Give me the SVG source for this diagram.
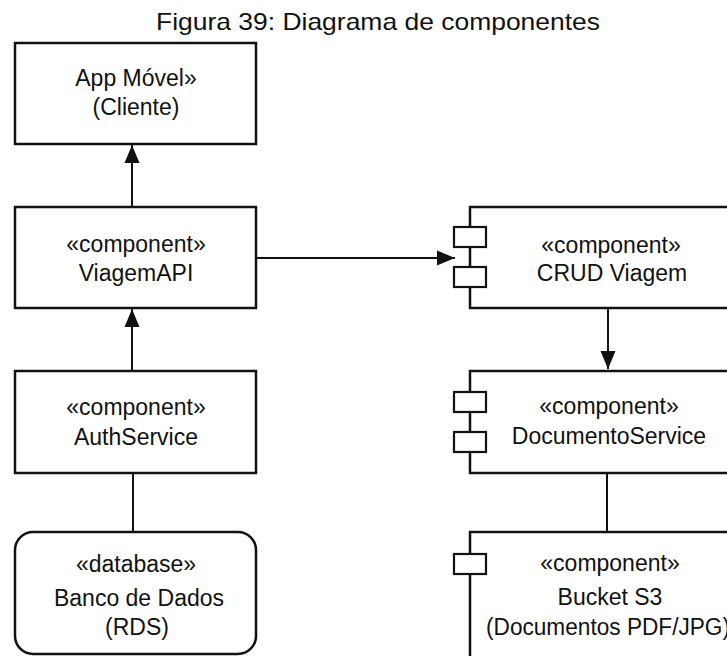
<svg xmlns="http://www.w3.org/2000/svg" width="727" height="656" viewBox="0 0 727 656">
  <style>
    .box { fill: #ffffff; stroke: #111111; stroke-width: 2.5; }
    .port { fill: #ffffff; stroke: #111111; stroke-width: 2.2; }
    .edge { fill: none; stroke: #111111; stroke-width: 2; }
    text { font-family: "Liberation Sans", Arial, sans-serif; font-size: 23px; fill: #111111; text-anchor: middle; }
    .title { font-size: 24px; }
  </style>
  <defs>
    <marker id="arrow" markerUnits="userSpaceOnUse" markerWidth="20" markerHeight="16" refX="18" refY="8" orient="auto">
      <path d="M0,0.5 L18,8 L0,15.5 Z" fill="#111111"/>
    </marker>
  </defs>
  <rect width="727" height="656" fill="#ffffff"/>

  <text class="title" x="378" y="30" textLength="444" lengthAdjust="spacingAndGlyphs">Figura 39: Diagrama de componentes</text>

  <g id="connectors">
    <line class="edge" x1="132" y1="207" x2="132" y2="145" marker-end="url(#arrow)"/>
    <line class="edge" x1="132" y1="371" x2="132" y2="309" marker-end="url(#arrow)"/>
    <line class="edge" x1="257" y1="258" x2="455" y2="258" marker-end="url(#arrow)"/>
    <line class="edge" x1="608" y1="308" x2="608" y2="369" marker-end="url(#arrow)"/>
    <line class="edge" x1="133" y1="473" x2="133" y2="532"/>
    <line class="edge" x1="607" y1="473" x2="607" y2="532"/>
  </g>

  <g id="app-movel">
    <rect class="box" x="15" y="43" width="241" height="101"/>
    <text x="136" y="86">App Móvel»</text>
    <text x="136" y="115">(Cliente)</text>
  </g>

  <g id="viagem-api">
    <rect class="box" x="15" y="207" width="241" height="101"/>
    <text x="136" y="252">«component»</text>
    <text x="136" y="281">ViagemAPI</text>
  </g>

  <g id="auth-service">
    <rect class="box" x="15" y="371" width="241" height="102"/>
    <text x="136" y="415">«component»</text>
    <text x="136" y="445">AuthService</text>
  </g>

  <g id="banco-de-dados">
    <rect class="box" x="15" y="532" width="241" height="122" rx="18" ry="18"/>
    <text x="136" y="572">«database»</text>
    <text x="139" y="606">Banco de Dados</text>
    <text x="137" y="635">(RDS)</text>
  </g>

  <g id="crud-viagem">
    <rect class="box" x="470" y="207" width="280" height="101"/>
    <rect class="port" x="454" y="227" width="32" height="20"/>
    <rect class="port" x="454" y="267" width="32" height="20"/>
    <text x="611" y="253">«component»</text>
    <text x="612" y="281">CRUD Viagem</text>
  </g>

  <g id="documento-service">
    <rect class="box" x="470" y="371" width="280" height="102"/>
    <rect class="port" x="454" y="392" width="32" height="20"/>
    <rect class="port" x="454" y="432" width="32" height="20"/>
    <text x="609" y="414">«component»</text>
    <text x="609" y="444">DocumentoService</text>
  </g>

  <g id="bucket-s3">
    <rect class="box" x="470" y="532" width="280" height="140"/>
    <rect class="port" x="454" y="554" width="32" height="20"/>
    <text x="610" y="571">«component»</text>
    <text x="610" y="605">Bucket S3</text>
    <text x="608" y="635" textLength="244" lengthAdjust="spacingAndGlyphs">(Documentos PDF/JPG)</text>
  </g>
</svg>
